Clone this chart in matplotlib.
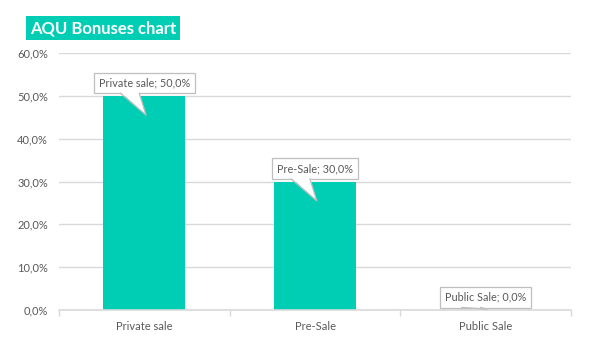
import numpy as np
import matplotlib.pyplot as plt
from matplotlib.ticker import FixedLocator, FuncFormatter

plt.rcParams['font.family'] = ['Lato', 'DejaVu Sans']

# data
categories = ['Private sale', 'Pre-Sale', 'Public Sale']
bonus_pct = [50.0, 30.0, 0.0]
callout_names = ['Private sale', 'Pre-Sale', 'Public Sale']

teal = '#00CEB4'
grey_txt = '#595959'
grid_col = '#D9D9D9'
box_edge = '#BFBFBF'

fig = plt.figure(figsize=(6.14, 3.52), dpi=100)
ax = fig.add_axes([59 / 614, 1 - 310 / 352, 512 / 614, 257 / 352])

x = np.arange(len(categories))
ax.bar(x, bonus_pct, width=0.48, color=teal, zorder=2)

ax.set_xlim(-0.5, len(categories) - 0.5)
ax.set_ylim(0, 60)
ax.set_yticks(np.arange(0, 61, 10))
ax.yaxis.set_major_formatter(FuncFormatter(lambda v, p: f'{v:.1f}%'.replace('.', ',')))
ax.grid(axis='y', color=grid_col, linewidth=1, zorder=0)
ax.set_xticks(x)
ax.set_xticklabels(categories)
ax.xaxis.set_minor_locator(FixedLocator(np.arange(-0.5, len(categories), 1.0)))
ax.tick_params(axis='x', which='major', length=0, pad=8, labelsize=8, labelcolor=grey_txt)
ax.tick_params(axis='x', which='minor', length=4, color=grid_col, width=1)
ax.tick_params(axis='y', length=0, pad=8, labelsize=8, labelcolor=grey_txt)
for s in ['top', 'right', 'left']:
    ax.spines[s].set_visible(False)
ax.spines['bottom'].set_color(grid_col)
ax.spines['bottom'].set_linewidth(1.2)

# callouts
for i, (name, v) in enumerate(zip(callout_names, bonus_pct)):
    label = f'{name}; {v:.1f}%'.replace('.', ',')
    cy = v + 3.0
    ax.text(i, cy, label, ha='center', va='center', fontsize=7.8, color=grey_txt, zorder=5,
            bbox=dict(boxstyle='square,pad=0.45', fc='white', ec=box_edge, lw=0.9))
    base_y = cy - 2.4
    tip_y = max(v - 4.5, 0.2)
    px = [i - 0.14, i + 0.01, i - 0.03]
    py = [base_y + 0.3, tip_y, base_y + 0.3]
    ax.fill(px, py, color='white', zorder=6, lw=0)
    ax.plot([px[0], px[1], px[2]], [base_y, tip_y, base_y], color=box_edge, lw=0.9, zorder=7)

fig.text(30 / 614, 1 - 28 / 352, 'AQU Bonuses chart', color='white', fontsize=12,
         fontweight='bold', ha='left', va='center',
         bbox=dict(boxstyle='square,pad=0.25', fc=teal, ec='none'))

fig.savefig('out.png', dpi=100)
